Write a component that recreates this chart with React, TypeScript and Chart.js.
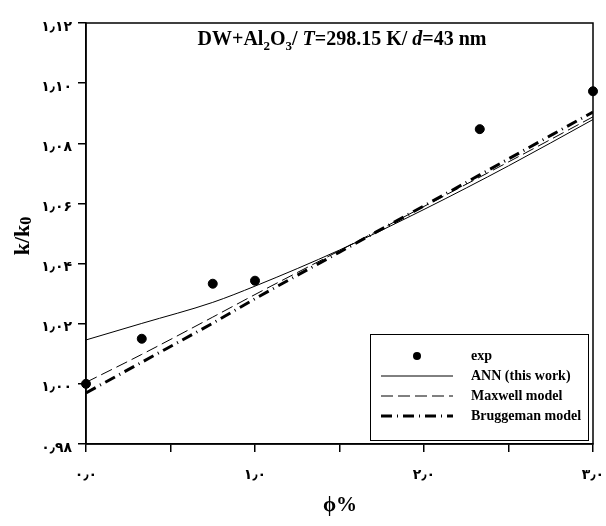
import React, { useEffect, useRef } from "react";
import { Chart, registerables } from "chart.js";

Chart.register(...registerables);

const expX = [0, 0.33, 0.75, 1.0, 2.33, 3.0];
const expY = [1.0, 1.015, 1.0333, 1.0343, 1.0847, 1.0973];

const modelX = [0, 0.33, 0.75, 1.0, 1.5, 2.0, 2.5, 3.0];
const annY = [1.0146, 1.0201, 1.0271, 1.0325, 1.0445, 1.058, 1.0725, 1.0879];
const maxwellY = [1.0005, 1.0098, 1.0222, 1.0297, 1.0443, 1.0590, 1.0738, 1.0888];
const bruggemanY = [0.9970, 1.0072, 1.0202, 1.0283, 1.0438, 1.0592, 1.0748, 1.0904];

const yTickLabels: Record<string, string> = {
  "0.98": "۰٫۹۸",
  "1.00": "۱٫۰۰",
  "1.02": "۱٫۰۲",
  "1.04": "۱٫۰۴",
  "1.06": "۱٫۰۶",
  "1.08": "۱٫۰۸",
  "1.10": "۱٫۱۰",
  "1.12": "۱٫۱۲",
};
const xTickLabels: Record<string, string> = {
  "0.0": "۰٫۰",
  "1.0": "۱٫۰",
  "2.0": "۲٫۰",
  "3.0": "۳٫۰",
};

const legendLabels = ["exp", "ANN (this work)", "Maxwell model", "Bruggeman model"];

const SERIF = "'Liberation Serif', 'Times New Roman', serif";

const decorPlugin = {
  id: "decor",
  afterDatasetsDraw(chart: any) {
    const ctx = chart.ctx as CanvasRenderingContext2D;
    const a = chart.chartArea;
    ctx.save();
    ctx.strokeStyle = "#000";
    ctx.lineWidth = 1.5;
    ctx.strokeRect(a.left, a.top, a.right - a.left, a.bottom - a.top);

    const parts: [string, string, number][] = [
      ["DW+Al", "bold 20px " + SERIF, 0],
      ["2", "bold 13px " + SERIF, 5],
      ["O", "bold 20px " + SERIF, 0],
      ["3", "bold 13px " + SERIF, 5],
      ["/ ", "bold 20px " + SERIF, 0],
      ["T", "italic bold 20px " + SERIF, 0],
      ["=298.15 K/ ", "bold 20px " + SERIF, 0],
      ["d", "italic bold 20px " + SERIF, 0],
      ["=43 nm", "bold 20px " + SERIF, 0],
    ];
    let total = 0;
    for (const [t, f] of parts) {
      ctx.font = f;
      total += ctx.measureText(t).width;
    }
    let x = 342 - total / 2;
    const base = 45;
    ctx.fillStyle = "#000";
    ctx.textBaseline = "alphabetic";
    ctx.textAlign = "left";
    for (const [t, f, dy] of parts) {
      ctx.font = f;
      ctx.fillText(t, x, base + dy);
      x += ctx.measureText(t).width;
    }

    ctx.font = "bold 21px " + SERIF;
    ctx.textAlign = "center";
    ctx.textBaseline = "middle";
    ctx.fillText("ϕ%", 340, 506);
    ctx.save();
    ctx.translate(22, 236);
    ctx.rotate(-Math.PI / 2);
    ctx.font = "bold 22px " + SERIF;
    const kw = ctx.measureText("k/k").width;
    ctx.font = "bold 16px " + SERIF;
    const zw = ctx.measureText("0").width;
    const sx = -(kw + zw) / 2;
    ctx.textAlign = "left";
    ctx.textBaseline = "alphabetic";
    ctx.font = "bold 22px " + SERIF;
    ctx.fillText("k/k", sx, 7);
    ctx.font = "bold 16px " + SERIF;
    ctx.fillText("0", sx + kw, 9);
    ctx.restore();

    const lx = 370, ly = 334, lw = 218, lh = 106;
    ctx.fillStyle = "#fff";
    ctx.fillRect(lx, ly, lw, lh);
    ctx.strokeStyle = "#000";
    ctx.lineWidth = 1;
    ctx.strokeRect(lx + 0.5, ly + 0.5, lw, lh);
    const rows = [356, 376, 396, 416];
    const s0 = 381, s1 = 453;
    const ds = chart.data.datasets;
    ctx.fillStyle = "#000";
    ctx.beginPath();
    ctx.arc((s0 + s1) / 2, rows[0], 4, 0, Math.PI * 2);
    ctx.fill();
    for (let i = 1; i < 4; i++) {
      const d = ds[i];
      ctx.beginPath();
      ctx.setLineDash(d.borderDash || []);
      ctx.lineWidth = d.borderWidth;
      ctx.strokeStyle = "#000";
      ctx.moveTo(s0, rows[i]);
      ctx.lineTo(s1, rows[i]);
      ctx.stroke();
    }
    ctx.setLineDash([]);
    ctx.font = "bold 14px " + SERIF;
    ctx.textAlign = "left";
    ctx.textBaseline = "middle";
    legendLabels.forEach((t, i) => ctx.fillText(t, 471, rows[i]));
    ctx.restore();
  },
};

export default function App() {
  const ref = useRef<HTMLCanvasElement>(null);
  useEffect(() => {
    document.body.style.margin = "0";
    const chart = new Chart(ref.current!, {
      type: "scatter",
      data: {
        datasets: [
          {
            label: legendLabels[0],
            data: expX.map((x, i) => ({ x, y: expY[i] })),
            pointRadius: 4.5,
            backgroundColor: "#000",
            borderColor: "#000",
            showLine: false,
            clip: false as any,
            order: 0,
          },
          {
            label: legendLabels[1],
            data: modelX.map((x, i) => ({ x, y: annY[i] })),
            showLine: true,
            pointRadius: 0,
            borderColor: "#000",
            borderWidth: 1,
            cubicInterpolationMode: "monotone",
            order: 3,
          },
          {
            label: legendLabels[2],
            data: modelX.map((x, i) => ({ x, y: maxwellY[i] })),
            showLine: true,
            pointRadius: 0,
            borderColor: "#000",
            borderWidth: 1,
            borderDash: [12, 5],
            cubicInterpolationMode: "monotone",
            order: 2,
          },
          {
            label: legendLabels[3],
            data: modelX.map((x, i) => ({ x, y: bruggemanY[i] })),
            showLine: true,
            pointRadius: 0,
            borderColor: "#000",
            borderWidth: 3,
            borderDash: [11, 5, 1, 5],
            cubicInterpolationMode: "monotone",
            order: 1,
          },
        ] as any,
      },
      options: {
        animation: false,
        responsive: false,
        layout: { padding: { left: 0, top: 23, right: 13, bottom: 0 } },
        plugins: {
          legend: { display: false },
          tooltip: { enabled: false },
        },
        scales: {
          x: {
            type: "linear",
            min: 0,
            max: 3,
            afterFit: (s: any) => {
              s.height = 82;
              s.paddingLeft = 0;
              s.paddingRight = 0;
            },
            grid: {
              drawOnChartArea: false,
              color: "#000",
              tickLength: 8,
              tickColor: "#000",
              lineWidth: 1.5,
            },
            border: { color: "#000", width: 1.5 },
            ticks: {
              stepSize: 0.5,
              autoSkip: false,
              maxRotation: 0,
              color: "#000",
              padding: 15,
              font: { family: "'DejaVu Sans'", size: 14, weight: "bold" },
              callback: (v: any) => xTickLabels[Number(v).toFixed(1)] ?? "",
            },
          },
          y: {
            type: "linear",
            min: 0.98,
            max: 1.12,
            afterFit: (s: any) => {
              s.width = 86;
              s.paddingTop = 0;
              s.paddingBottom = 0;
            },
            grid: {
              drawOnChartArea: false,
              color: "#000",
              tickLength: 8,
              tickColor: "#000",
              lineWidth: 1.5,
            },
            border: { color: "#000", width: 1.5 },
            ticks: {
              stepSize: 0.02,
              autoSkip: false,
              color: "#000",
              padding: 6,
              labelOffset: 4,
              font: { family: "'DejaVu Sans'", size: 14, weight: "bold" },
              callback: (v: any) => yTickLabels[Number(v).toFixed(2)] ?? "",
            },
          },
        },
      },
      plugins: [decorPlugin],
    });
    return () => chart.destroy();
  }, []);
  return <canvas ref={ref} width={606} height={526} style={{ display: "block" }} />;
}
